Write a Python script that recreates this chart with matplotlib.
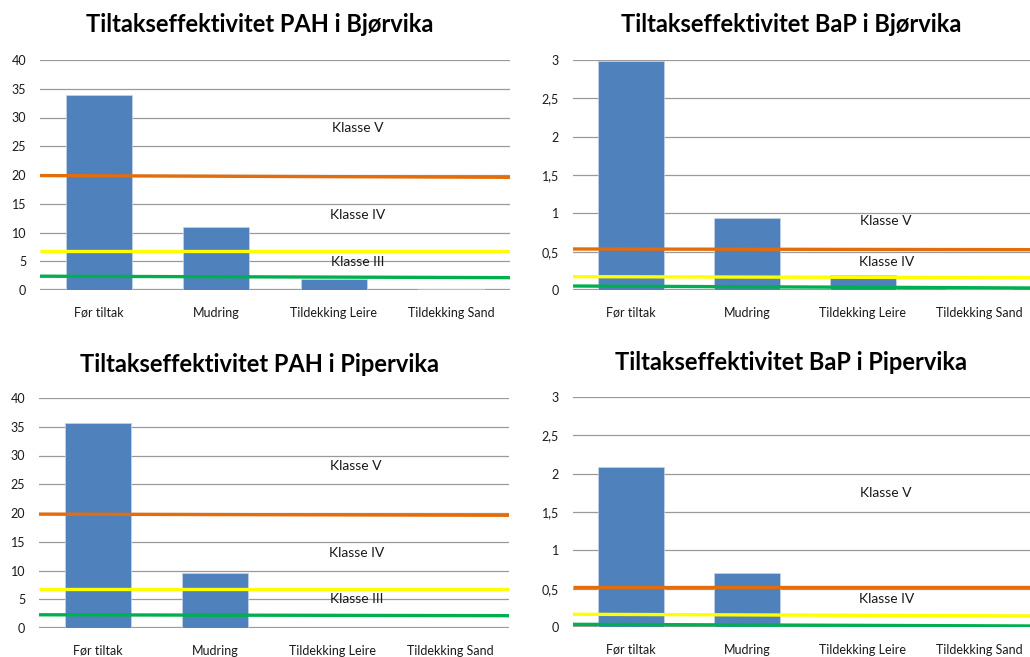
import matplotlib
matplotlib.use('Agg')
import matplotlib.pyplot as plt

plt.rcParams['font.family'] = ['Lato', 'DejaVu Sans']

categories = ['Før tiltak', 'Mudring', 'Tildekking Leire', 'Tildekking Sand']

# bar values
pah_bjorvika = [34.0, 11.0, 1.9, 0.15]
bap_bjorvika = [2.99, 0.94, 0.20, 0.01]
pah_pipervika = [35.6, 9.6, 0.05, 0.05]
bap_pipervika = [2.09, 0.70, 0.008, 0.005]

# class boundary lines (value at left edge, value at right edge)
pah_bj_orange = [19.9, 19.6]
pah_bj_yellow = [6.8, 6.8]
pah_bj_green = [2.4, 2.15]
bap_bj_orange = [0.535, 0.526]
bap_bj_yellow = [0.174, 0.16]
bap_bj_green = [0.052, 0.026]
pah_pi_orange = [19.8, 19.6]
pah_pi_yellow = [6.8, 6.8]
pah_pi_green = [2.3, 2.14]
bap_pi_orange = [0.52, 0.52]
bap_pi_yellow = [0.166, 0.144]
bap_pi_green = [0.035, 0.013]

pah_ticks = [0, 5, 10, 15, 20, 25, 30, 35, 40]
pah_ticklabels = ['0', '5', '10', '15', '20', '25', '30', '35', '40']
bap_ticks = [0, 0.5, 1, 1.5, 2, 2.5, 3]
bap_ticklabels = ['0', '0,5', '1', '1,5', '2', '2,5', '3']

BAR = '#4F81BD'
ORANGE = '#E46C0A'
YELLOW = '#FFFF00'
GREEN = '#00B050'
GRID = '#9a9a9a'

W, H = 1030, 657
fig = plt.figure(figsize=(W / 100, H / 100), dpi=100)


def make_axes(x0, y_top, x1, y_bot):
    return fig.add_axes([x0 / W, 1 - y_bot / H, (x1 - x0) / W, (y_bot - y_top) / H])


def draw(ax, values, orange, yellow, green, ticks, ticklabels, labels):
    x = range(len(categories))
    ax.set_xlim(-0.5, 3.5)
    ax.set_ylim(ticks[0], ticks[-1])
    for t in ticks[1:]:
        ax.axhline(t, color=GRID, lw=0.9, zorder=1)
    ax.axhline(0, color=GRID, lw=1.6, zorder=1)
    ax.bar(x, values, width=0.565, color=BAR, edgecolor='#c6d4e8', lw=0.5, zorder=2)
    ax.plot([-0.5, 3.5], orange, color=ORANGE, lw=2.4, zorder=3, solid_capstyle='butt')
    ax.plot([-0.5, 3.5], yellow, color=YELLOW, lw=2.4, zorder=3, solid_capstyle='butt')
    ax.plot([-0.5, 3.5], green, color=GREEN, lw=2.4, zorder=3, solid_capstyle='butt')
    for txt, yv in labels:
        ax.text(2.2, yv, txt, ha='center', va='center', fontsize=10, color='#1a1a1a', zorder=4)
    ax.set_xticks(list(x))
    ax.set_xticklabels(categories, fontsize=9, color='#1a1a1a')
    ax.set_yticks(ticks)
    ax.set_yticklabels(ticklabels, fontsize=9, color='#1a1a1a')
    ax.tick_params(length=0)
    ax.tick_params(axis='x', pad=12)
    ax.tick_params(axis='y', pad=10)
    for s in ax.spines.values():
        s.set_visible(False)
    ax.patch.set_alpha(0)


ax1 = make_axes(40, 60, 510, 290)
draw(ax1, pah_bjorvika, pah_bj_orange, pah_bj_yellow, pah_bj_green, pah_ticks, pah_ticklabels,
     [('Klasse V', 28.2), ('Klasse IV', 13.0), ('Klasse III', 4.9)])

ax2 = make_axes(573, 60, 1037, 290)
draw(ax2, bap_bjorvika, bap_bj_orange, bap_bj_yellow, bap_bj_green, bap_ticks, bap_ticklabels,
     [('Klasse V', 0.90), ('Klasse IV', 0.37)])

ax3 = make_axes(39, 398, 509, 628)
draw(ax3, pah_pipervika, pah_pi_orange, pah_pi_yellow, pah_pi_green, pah_ticks, pah_ticklabels,
     [('Klasse V', 28.1), ('Klasse IV', 13.1), ('Klasse III', 5.0)])

ax4 = make_axes(573, 397, 1037, 627)
draw(ax4, bap_pipervika, bap_pi_orange, bap_pi_yellow, bap_pi_green, bap_ticks, bap_ticklabels,
     [('Klasse V', 1.75), ('Klasse IV', 0.37)])

title_kw = dict(ha='center', va='center', fontsize=17, fontweight='bold', color='black')
fig.text(260 / W, 1 - 25 / H, 'Tiltakseffektivitet PAH i Bjørvika', **title_kw)
fig.text(791 / W, 1 - 25 / H, 'Tiltakseffektivitet BaP i Bjørvika', **title_kw)
fig.text(260 / W, 1 - 365 / H, 'Tiltakseffektivitet PAH i Pipervika', **title_kw)
fig.text(791 / W, 1 - 363 / H, 'Tiltakseffektivitet BaP i Pipervika', **title_kw)

fig.savefig('out.png', dpi=100, facecolor='white')
